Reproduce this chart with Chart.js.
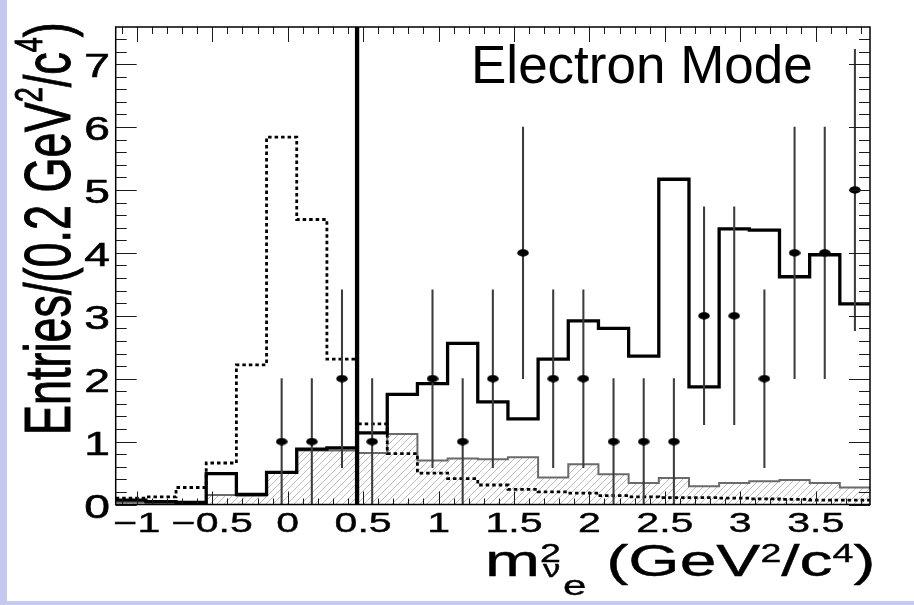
<!DOCTYPE html>
<html>
<head>
<meta charset="utf-8">
<script src="https://cdn.jsdelivr.net/npm/chart.js@4.4.1/dist/chart.umd.min.js"></script>
<style>
  html, body { margin: 0; padding: 0; }
  body { width: 914px; height: 605px; background: #c7c8ef; position: relative; overflow: hidden; }
  #panel { position: absolute; left: 7px; top: 0; width: 907px; height: 601px; background: #fff; }
  #wrap { position: absolute; left: 0; top: 0; width: 914px; height: 605px; }
</style>
</head>
<body>
<div id="panel"></div>
<div id="wrap"><canvas id="chart"></canvas></div>
<script>
// binning of the histograms (GeV^2/c^4)
const binLow = -1.14;
const binWidth = 0.2;
const xRange = [-1.14, 3.86];
const yRange = [0, 7.59];
const xTickValues = [-1, -0.5, 0, 0.5, 1, 1.5, 2, 2.5, 3, 3.5];
const xTickLabels = ['\u22121', '\u22120.5', '0', '0.5', '1', '1.5', '2', '2.5', '3', '3.5'];
const yTickValues = [0, 1, 2, 3, 4, 5, 6, 7];
const yTickLabels = ['0', '1', '2', '3', '4', '5', '6', '7'];

// per-bin contents, 25 bins
const totalExpected = [0.07, 0.045, 0.035, 0.49, 0.16, 0.51, 0.88, 0.90, 1.14, 1.75, 1.92, 2.56, 1.63,
  1.36, 2.31, 2.92, 2.80, 2.36, 5.17, 1.87, 4.38, 4.36, 3.62, 3.97, 3.19];
const signalShape = [0.10, 0.12, 0.27, 0.66, 2.22, 5.84, 4.53, 2.31, 1.28, 0.81, 0.50, 0.41, 0.31,
  0.24, 0.20, 0.18, 0.14, 0.12, 0.11, 0.11, 0.10, 0.09, 0.08, 0.07, 0.07];
const background = [0.03, 0.02, 0.02, 0.15, 0.14, 0.50, 0.86, 0.86, 0.82, 1.12, 0.70, 0.73, 0.72,
  0.75, 0.43, 0.64, 0.48, 0.34, 0.42, 0.29, 0.34, 0.37, 0.39, 0.34, 0.27];
const dataCounts = [0, 0, 0, 0, 0, 1, 1, 2, 1, 0, 2, 1, 2, 4, 2, 2, 1, 1, 1, 3, 3, 2, 4, 4, 5];
const cutValue = 0.46;

const FONT = '"Liberation Sans", Arial, Helvetica, sans-serif';

function stepPoints(values) {
  const pts = values.map((v, i) => ({ x: binLow + i * binWidth, y: v }));
  pts.push({ x: binLow + values.length * binWidth, y: values[values.length - 1] });
  return pts;
}

const dataPoints = [];
const errorBars = [];
dataCounts.forEach((n, i) => {
  if (n <= 0) return;
  const x = binLow + (i + 0.5) * binWidth;
  dataPoints.push({ x, y: n });
  errorBars.push({ x, y: [n - Math.sqrt(n), n + Math.sqrt(n)] });
});

const canvas = document.getElementById('chart');

// filled circle marker, stretched like the picture
const marker = document.createElement('canvas');
marker.width = 12;
marker.height = 8;
const mctx = marker.getContext('2d');
mctx.fillStyle = '#000';
mctx.beginPath();
mctx.ellipse(6, 4, 5.8, 3.7, 0, 0, Math.PI * 2);
mctx.fill();

function makeHatch() {
  const s = 7;
  const tile = document.createElement('canvas');
  tile.width = s;
  tile.height = s;
  const g = tile.getContext('2d');
  g.strokeStyle = '#bcbcbc';
  g.lineWidth = 1;
  g.beginPath();
  g.moveTo(0, s); g.lineTo(s, 0);
  g.moveTo(-1, 1); g.lineTo(1, -1);
  g.moveTo(s - 1, s + 1); g.lineTo(s + 1, s - 1);
  g.stroke();
  return canvas.getContext('2d').createPattern(tile, 'repeat');
}

// text widened horizontally, with a thin outline to thicken the strokes
function stretched(ctx, text, x, y, sx, align, bold) {
  ctx.save();
  ctx.translate(x, y);
  ctx.scale(sx, 1);
  ctx.textAlign = align || 'left';
  ctx.fillText(text, 0, 0);
  if (bold) {
    ctx.lineWidth = bold;
    ctx.strokeText(text, 0, 0);
  }
  ctx.restore();
}

const rootFrame = {
  id: 'rootFrame',
  afterDatasetsDraw(chart) {
    const { ctx, chartArea: a, scales: { x, y } } = chart;
    ctx.save();
    ctx.strokeStyle = '#1a1a1a';
    ctx.lineWidth = 1;
    ctx.beginPath();
    for (let i = -11; i <= 38; i++) {
      const px = Math.round(x.getPixelForValue(i / 10)) + 0.5;
      const major = i % 5 === 0;
      ctx.moveTo(px, a.bottom);
      ctx.lineTo(px, a.bottom - (major ? 13 : 6));
      ctx.moveTo(px, a.top);
      ctx.lineTo(px, a.top + (major ? 15 : 7));
    }
    for (let i = 0; i <= 37; i++) {
      const py = Math.round(y.getPixelForValue(i * 0.2)) + 0.5;
      const major = i % 5 === 0;
      ctx.moveTo(a.left, py);
      ctx.lineTo(a.left + (major ? 21 : 11), py);
      ctx.moveTo(a.right, py);
      ctx.lineTo(a.right - (major ? 21 : 11), py);
    }
    ctx.stroke();
    ctx.lineWidth = 1.5;
    ctx.strokeStyle = '#000';
    ctx.strokeRect(a.left, a.top, a.width, a.height);
    ctx.restore();
  },
  afterDraw(chart) {
    const { ctx, scales: { x, y } } = chart;
    ctx.save();
    ctx.fillStyle = '#000';
    ctx.strokeStyle = '#000';
    ctx.textBaseline = 'alphabetic';

    // y tick labels
    ctx.font = '33px ' + FONT;
    yTickValues.forEach((v, i) => {
      stretched(ctx, yTickLabels[i], 110, y.getPixelForValue(v) + 13, 1.4, 'right', 0.6);
    });

    // x tick labels
    ctx.font = '27px ' + FONT;
    xTickValues.forEach((v, i) => {
      stretched(ctx, xTickLabels[i], x.getPixelForValue(v), 532, 1.52, 'center', 0.4);
    });

    // x axis title: m^2_{nu_e} (GeV^2/c^4)
    const base = 576;
    const run = [
      { t: 'm', size: 44, x: 485, dy: 0 },
      { t: '2', size: 25, x: 540, dy: -14 },
      { t: '\u03bd', size: 23, x: 543, dy: 1 },
      { t: 'e', size: 28, x: 563, dy: 19 },
      { t: ' (GeV', size: 44, x: 588, dy: 0 },
      { t: '2', size: 25, dy: -14 },
      { t: '/c', size: 44, dy: 0 },
      { t: '4', size: 25, dy: -14 },
      { t: ')', size: 44, dy: 0 },
    ];
    let cx = 0;
    run.forEach((p) => {
      ctx.font = p.size + 'px ' + FONT;
      if (p.x !== undefined) cx = p.x;
      stretched(ctx, p.t, cx, base + p.dy, 1.5, 'left', 0.4);
      cx += ctx.measureText(p.t).width * 1.5;
    });

    // y axis title, rotated
    ctx.save();
    ctx.translate(70, 435);
    ctx.rotate(-Math.PI / 2);
    ctx.scale(1, 1.45);
    ctx.lineWidth = 0.7;
    const yRun = [
      { t: 'Entries/(0.2 GeV', size: 45, dy: 0 },
      { t: '2', size: 27, dy: -19 },
      { t: '/c', size: 45, dy: 0 },
      { t: '4', size: 27, dy: -19 },
      { t: ')', size: 45, dy: 0 },
    ];
    let lx = 0;
    yRun.forEach((p) => {
      ctx.font = p.size + 'px ' + FONT;
      ctx.fillText(p.t, lx, p.dy);
      ctx.strokeText(p.t, lx, p.dy);
      lx += ctx.measureText(p.t).width;
    });
    ctx.restore();

    // label in the plot
    ctx.font = '53px ' + FONT;
    ctx.textAlign = 'left';
    ctx.fillText('Electron Mode', 471, 83);
    ctx.restore();
  },
};

new Chart(canvas, {
  type: 'line',
  data: {
    datasets: [
      {
        type: 'scatter',
        label: 'Data',
        data: dataPoints,
        pointStyle: marker,
        pointRadius: 5,
        order: 0,
      },
      {
        type: 'bar',
        label: 'Errors',
        data: errorBars,
        backgroundColor: '#3c3c3c',
        borderWidth: 0,
        barThickness: 1.4,
        grouped: false,
        order: 1,
      },
      {
        type: 'line',
        label: 'Cut',
        data: [{ x: cutValue, y: yRange[0] }, { x: cutValue, y: yRange[1] }],
        borderColor: '#000',
        borderWidth: 4.3,
        pointRadius: 0,
        order: 2,
      },
      {
        type: 'line',
        label: 'Total',
        data: stepPoints(totalExpected),
        stepped: true,
        borderColor: '#000',
        borderWidth: 3.3,
        borderJoinStyle: 'miter',
        pointRadius: 0,
        fill: false,
        order: 3,
      },
      {
        type: 'line',
        label: 'Signal',
        data: stepPoints(signalShape),
        stepped: true,
        borderColor: '#000',
        borderWidth: 2.8,
        borderDash: [3.5, 3],
        pointRadius: 0,
        fill: false,
        order: 4,
      },
      {
        type: 'line',
        label: 'Background',
        data: stepPoints(background),
        stepped: true,
        borderColor: '#6a6a6a',
        borderWidth: 2,
        backgroundColor: makeHatch(),
        pointRadius: 0,
        fill: 'origin',
        order: 5,
      },
    ],
  },
  options: {
    responsive: true,
    maintainAspectRatio: false,
    devicePixelRatio: 1,
    animation: false,
    layout: { padding: { left: 115.7, right: 44, top: 27, bottom: 100.5 } },
    plugins: { legend: { display: false }, tooltip: { enabled: false } },
    scales: {
      x: { type: 'linear', display: false, offset: false, min: xRange[0], max: xRange[1] },
      y: { type: 'linear', display: false, min: yRange[0], max: yRange[1] },
    },
  },
  plugins: [rootFrame],
});
</script>
</body>
</html>
